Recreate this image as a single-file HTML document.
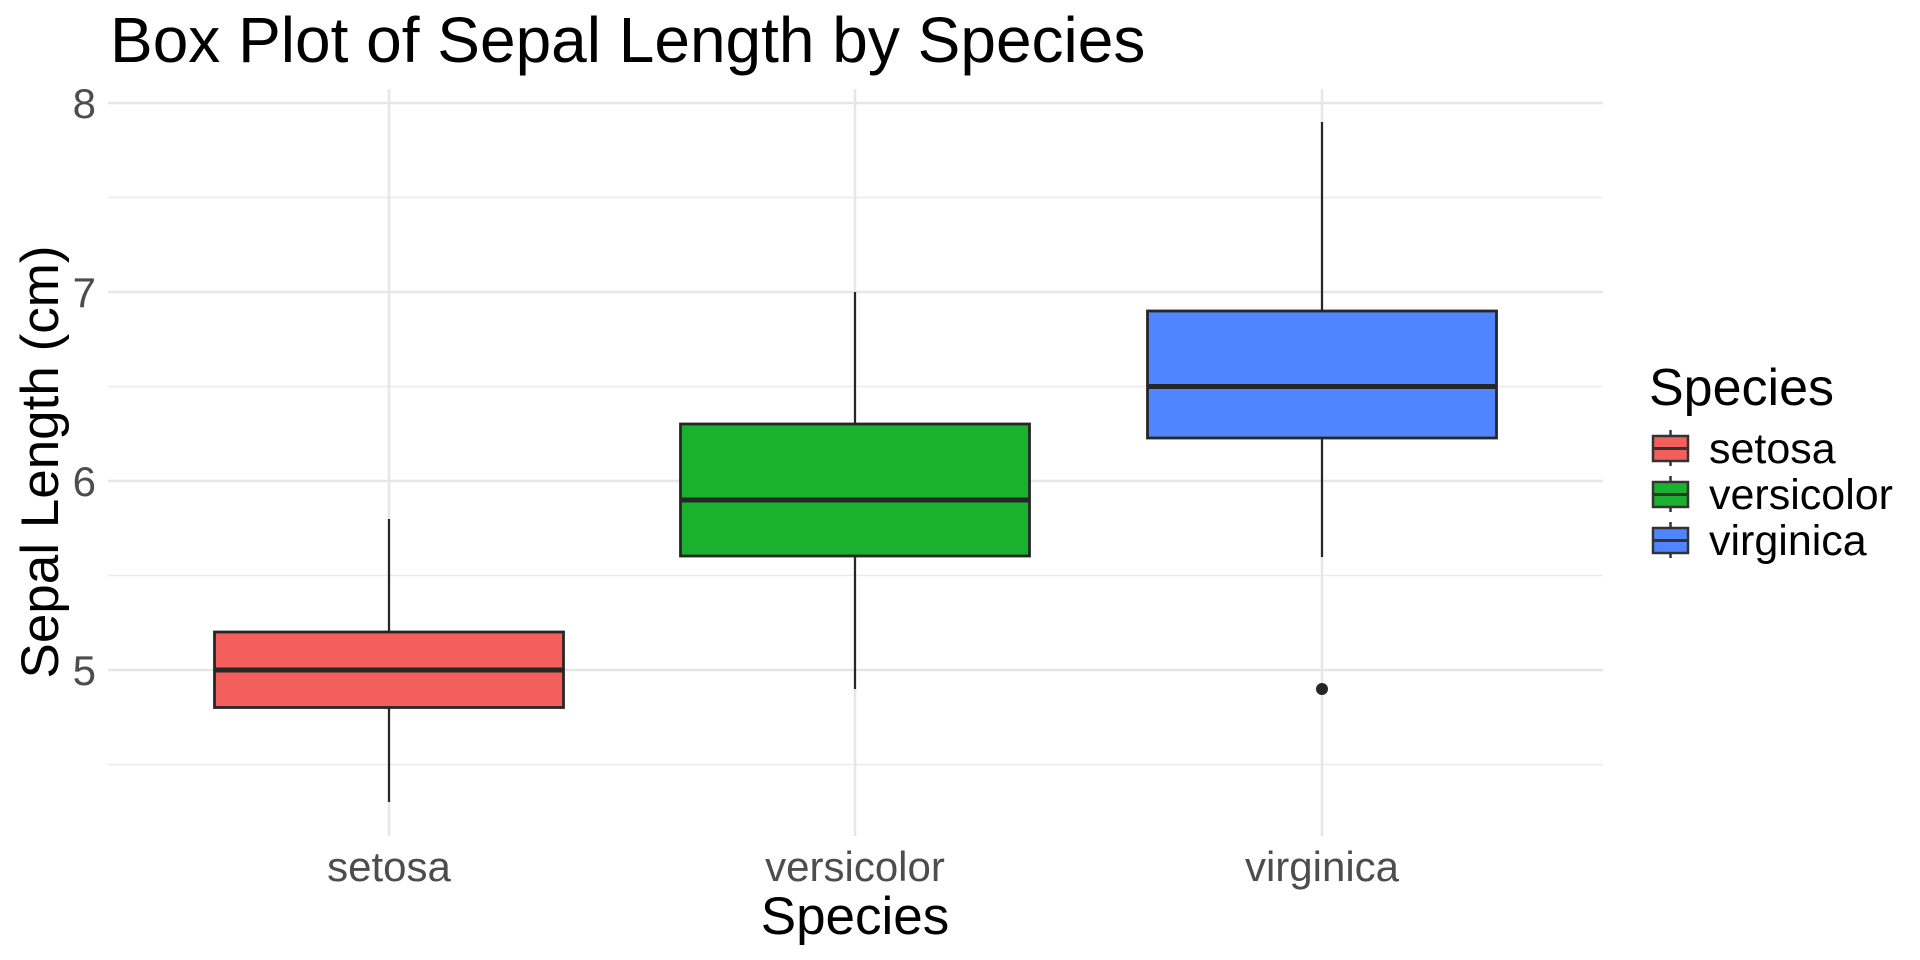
<!DOCTYPE html>
<html><head><meta charset="utf-8"><style>html,body{margin:0;padding:0;background:#fff}svg{display:block}</style></head>
<body>
<svg width="1920" height="960" viewBox="0 0 1920 960" xmlns="http://www.w3.org/2000/svg" font-family="Liberation Sans, Arial, sans-serif">
<rect width="1920" height="960" fill="#fff"/>
<g stroke="#ebebeb" stroke-width="1.5">
<line x1="108" x2="1603" y1="197.5" y2="197.5"/>
<line x1="108" x2="1603" y1="386.5" y2="386.5"/>
<line x1="108" x2="1603" y1="575.5" y2="575.5"/>
<line x1="108" x2="1603" y1="764.5" y2="764.5"/>
</g>
<g stroke="#e6e6e6" stroke-width="2.5">
<line x1="108" x2="1603" y1="103" y2="103"/>
<line x1="108" x2="1603" y1="292" y2="292"/>
<line x1="108" x2="1603" y1="481" y2="481"/>
<line x1="108" x2="1603" y1="670" y2="670"/>
<line x1="389" x2="389" y1="89" y2="836"/>
<line x1="855" x2="855" y1="89" y2="836"/>
<line x1="1322" x2="1322" y1="89" y2="836"/>
</g>
<g stroke="#262626" stroke-width="2.2">
<line x1="389" x2="389" y1="708" y2="802"/>
<line x1="389" x2="389" y1="632" y2="519"/>
<rect x="214.5" y="632" width="349" height="75.5" fill="#F25F5C" stroke-width="2.8"/>
<line x1="214.5" x2="563.5" y1="670" y2="670" stroke-width="5"/>
<line x1="855" x2="855" y1="557" y2="689"/>
<line x1="855" x2="855" y1="424" y2="292"/>
<rect x="680.5" y="424" width="349" height="132" fill="#19B12E" stroke-width="2.8"/>
<line x1="680.5" x2="1029.5" y1="500" y2="500" stroke-width="5"/>
<line x1="1322" x2="1322" y1="438" y2="557"/>
<line x1="1322" x2="1322" y1="311" y2="122"/>
<rect x="1147.5" y="311" width="349" height="127" fill="#4F86FF" stroke-width="2.8"/>
<line x1="1147.5" x2="1496.5" y1="386.5" y2="386.5" stroke-width="5"/>
</g>
<circle cx="1322" cy="689" r="6" fill="#262626"/>
<g fill="#4d4d4d" font-size="42" text-anchor="end">
<text x="96" y="118">8</text>
<text x="96" y="307">7</text>
<text x="96" y="496">6</text>
<text x="96" y="685">5</text>
</g>
<g fill="#4d4d4d" font-size="42" text-anchor="middle">
<text x="389" y="881">setosa</text>
<text x="855" y="881">versicolor</text>
<text x="1322" y="881">virginica</text>
</g>
<text x="855" y="934" font-size="53" text-anchor="middle" fill="#000">Species</text>
<text transform="translate(58,462) rotate(-90)" font-size="53" text-anchor="middle" fill="#000">Sepal Length (cm)</text>
<text x="110" y="62" font-size="64" fill="#000">Box Plot of Sepal Length by Species</text>
<text x="1649" y="405" font-size="52" fill="#000">Species</text>
<g stroke="#333" stroke-width="2.5">
<line x1="1670.5" x2="1670.5" y1="430" y2="466"/>
<rect x="1653" y="436" width="35" height="25" fill="#F25F5C"/>
<line x1="1653" x2="1688" y1="448.5" y2="448.5" stroke-width="3"/>
<line x1="1670.5" x2="1670.5" y1="476" y2="512"/>
<rect x="1653" y="482" width="35" height="25" fill="#19B12E"/>
<line x1="1653" x2="1688" y1="494.5" y2="494.5" stroke-width="3"/>
<line x1="1670.5" x2="1670.5" y1="522" y2="558"/>
<rect x="1653" y="528" width="35" height="25" fill="#4F86FF"/>
<line x1="1653" x2="1688" y1="540.5" y2="540.5" stroke-width="3"/>
</g>
<g font-size="43" fill="#000">
<text x="1709" y="463">setosa</text>
<text x="1709" y="509">versicolor</text>
<text x="1709" y="555">virginica</text>
</g>
</svg>
</body></html>
